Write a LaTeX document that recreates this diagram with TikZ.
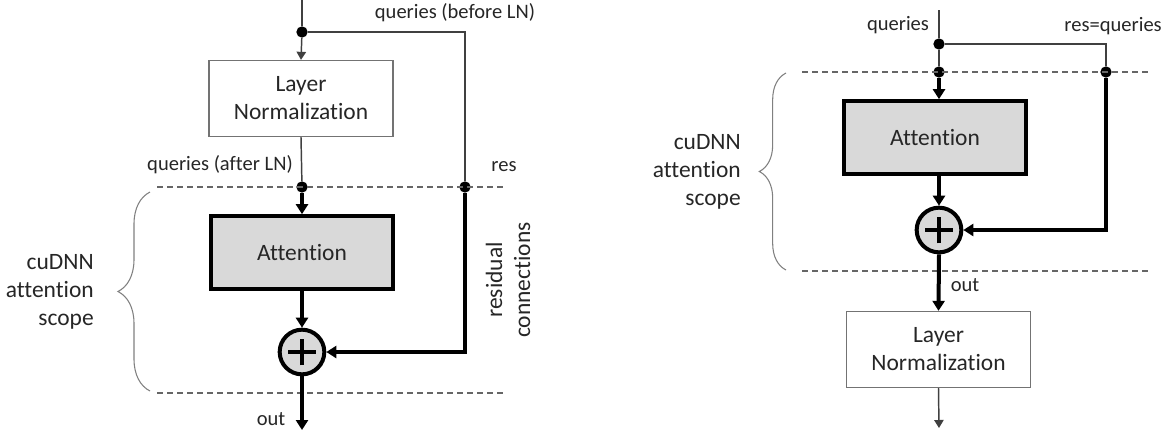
\documentclass[tikz,border=0pt]{standalone}
\usepackage{fontspec}
\setmainfont[Ligatures=NoCommon]{Carlito}
\usetikzlibrary{arrows.meta,decorations.pathreplacing}
\newcommand{\diagbig}{\fontsize{17.6}{21}\selectfont}
\newcommand{\diagsmall}{\fontsize{15.4}{18}\selectfont}

\begin{document}
\begin{tikzpicture}
      [x=0.75pt,y=-0.75pt,inner sep=0pt,
       wire/.style={draw=black!75,line width=1.1pt},
       boldwire/.style={draw=black,line width=3pt},
       thinarrow/.style={-{Triangle[length=6pt,width=7pt]}},
       boldarrow/.style={-{Triangle[length=7.5pt,width=9pt]}},
       scopeline/.style={draw=black!60,line width=1pt,dash pattern=on 4.5pt off 3pt},
       scopebrace/.style={draw=black!50,line width=0.8pt,decorate,decoration={brace,amplitude=24pt}},
       dot/.style={circle,fill=black,minimum size=8.5pt},
       lnbox/.style={rectangle,draw=black!55,line width=1pt,fill=white,text=black!85,
                     minimum width=138pt,minimum height=57pt,align=center,font=\diagbig},
       attbox/.style={rectangle,draw=black,line width=3pt,fill=black!15,text=black!85,
                      minimum width=137pt,minimum height=54.5pt,font=\diagbig},
       adder/.style={circle,draw=black,line width=3pt,fill=black!15,minimum size=33.5pt,
                     path picture={\draw[line width=3.7pt]
                       ([xshift=-10.5pt]path picture bounding box.center) -- ([xshift=10.5pt]path picture bounding box.center)
                       ([yshift=-10pt]path picture bounding box.center) -- ([yshift=10pt]path picture bounding box.center);}},
       smalltext/.style={text=black!85,font=\diagsmall},
       bigtext/.style={text=black!85,font=\diagbig,align=right}]
      \useasboundingbox (0,0) rectangle (1164,430);
      % left: layer norm before attention
      \coordinate (inL) at (302,0);
      \node at (302,32) (splitL) [dot] {};
      \coordinate (turnL) at (465,32);
      \node at (301,98.5) (lnL) [lnbox] {Layer\\Normalization};
      \node at (302,187) (qL) [dot] {};
      \node at (465,187) (resL) [dot] {};
      \node at (302,252.5) (attL) [attbox] {Attention};
      \node at (302,352) (addL) [adder] {};
      \coordinate (outL) at (302,430);
      \node at (455,13) (beforeL) [smalltext] {queries (before LN)};
      \node at (220,165) (afterL) [smalltext] {queries (after LN)};
      \node at (504,167) (resTxtL) [smalltext] {res};
      \node at (508,280) (residL) [bigtext,align=center,rotate=90] {residual\\connections};
      \node at (271,419) (outTxtL) [smalltext] {out};
      \node at (94,292) (scopeL) [bigtext,anchor=east] {cuDNN\\attention\\scope};
      \draw [scopeline] (157,187) -- (505,187);
      \draw [scopeline] (157,393) -- (505,393);
      \draw [scopebrace] (150,391) -- (150,192);
      \draw [wire] (inL) -- (splitL);
      \draw [wire,thinarrow] (splitL) -- (lnL.north);
      \draw [wire] (splitL) -- (turnL) -- (resL);
      \draw [wire] (lnL.south) -- (qL);
      \draw [boldwire,boldarrow] (qL) -- (attL.north);
      \draw [boldwire,boldarrow] (attL.south) -- (addL.north);
      \draw [boldwire,boldarrow] (resL) |- (addL.east);
      \draw [boldwire,boldarrow] (addL.south) -- (outL);
      % right: layer norm after attention
      \coordinate (inR) at (939,10);
      \node at (939,44) (splitR) [dot] {};
      \coordinate (turnR) at (1106,44);
      \node at (939,72) (qR) [dot] {};
      \node at (1106,72) (resR) [dot] {};
      \node at (935,137.5) (attR) [attbox] {Attention};
      \node at (939,230) (addR) [adder] {};
      \node at (938.5,349.5) (lnR) [lnbox] {Layer\\Normalization};
      \coordinate (outR) at (939,428);
      \node at (898,25) (queriesR) [smalltext] {queries};
      \node at (1162,26) (resTxtR) [smalltext,anchor=east] {res=queries};
      \node at (965,285) (outTxtR) [smalltext] {out};
      \node at (741,172) (scopeR) [bigtext,anchor=east] {cuDNN\\attention\\scope};
      \draw [scopeline] (802,72) -- (1148,72);
      \draw [scopeline] (802,271) -- (1148,271);
      \draw [scopebrace,decoration={amplitude=20pt}] (786,270) -- (786,73);
      \draw [wire] (inR) -- (splitR);
      \draw [wire] (splitR) -- (turnR) -- (resR);
      \draw [wire] (splitR) -- (qR);
      \draw [boldwire,boldarrow] (qR) -- (qR |- attR.north);
      \draw [boldwire,boldarrow] (qR |- attR.south) -- (addR.north);
      \draw [boldwire,boldarrow] (resR) |- (addR.east);
      \draw [boldwire,boldarrow] (addR.south) -- (lnR.north);
      \draw [wire,thinarrow] (lnR.south) -- (outR);
\end{tikzpicture}
\end{document}
